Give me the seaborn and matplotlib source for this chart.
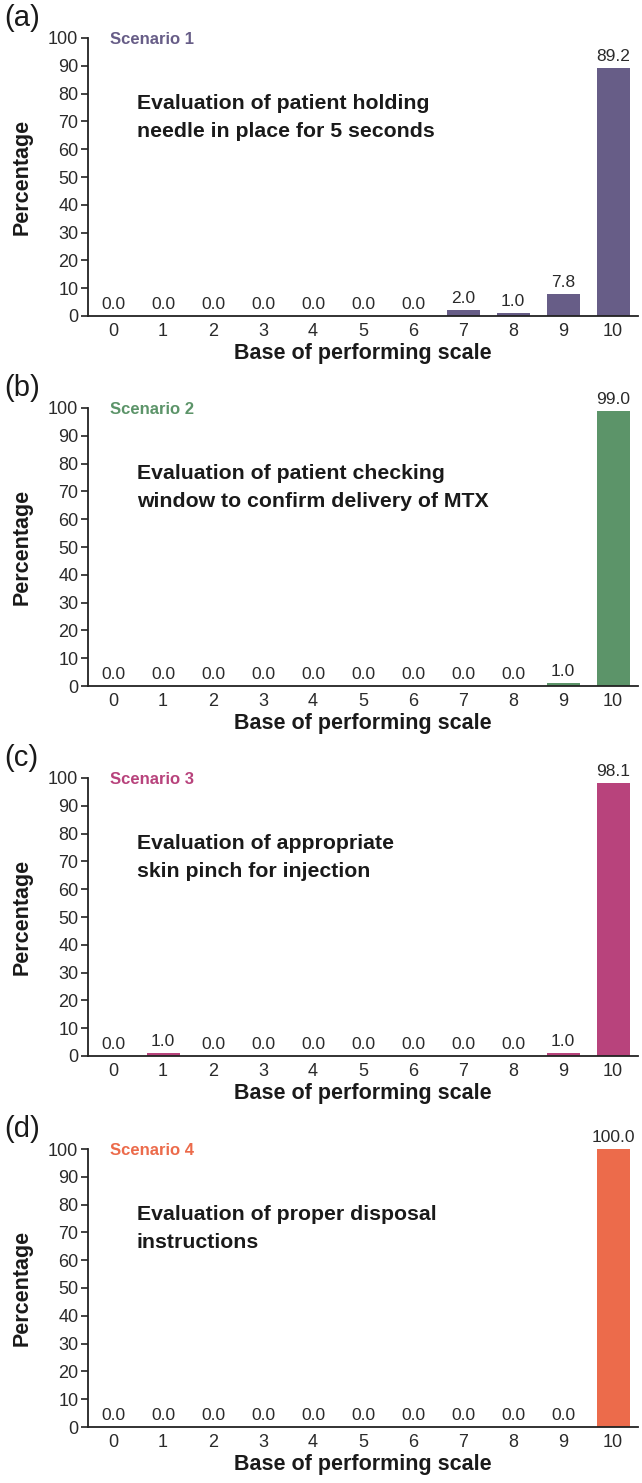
import matplotlib
matplotlib.use("Agg")
import matplotlib.pyplot as plt
import seaborn as sns
import pandas as pd
import numpy as np

categories = ["0", "1", "2", "3", "4", "5", "6", "7", "8", "9", "10"]
scenario1 = [0.0, 0.0, 0.0, 0.0, 0.0, 0.0, 0.0, 2.0, 1.0, 7.8, 89.2]
scenario2 = [0.0, 0.0, 0.0, 0.0, 0.0, 0.0, 0.0, 0.0, 0.0, 1.0, 99.0]
scenario3 = [0.0, 1.0, 0.0, 0.0, 0.0, 0.0, 0.0, 0.0, 0.0, 1.0, 98.1]
scenario4 = [0.0, 0.0, 0.0, 0.0, 0.0, 0.0, 0.0, 0.0, 0.0, 0.0, 100.0]
panel_letters = ["(a)", "(b)", "(c)", "(d)"]
scenario_names = ["Scenario 1", "Scenario 2", "Scenario 3", "Scenario 4"]
descriptions = [
    ["Evaluation of patient holding", "needle in place for 5 seconds"],
    ["Evaluation of patient checking", "window to confirm delivery of MTX"],
    ["Evaluation of appropriate", "skin pinch for injection"],
    ["Evaluation of proper disposal", "instructions"],
]
colors = ["#675d87", "#5c9469", "#b8437c", "#ec6b4b"]
yticks = [0, 10, 20, 30, 40, 50, 60, 70, 80, 90, 100]
xlabel = "Base of performing scale"
ylabel = "Percentage"

sns.set_theme(style="white")
plt.rcParams["font.family"] = ["Liberation Sans", "DejaVu Sans"]

W, H = 642, 1483
fig = plt.figure(figsize=(W / 100, H / 100), dpi=100)
fig.patch.set_facecolor("white")

left_px, right_px = 88, 638
zero_px = [316, 686, 1056, 1427]
height_px = 278

all_vals = [scenario1, scenario2, scenario3, scenario4]
text_col = "#1a1a1a"
tick_col = "#2a2a2a"

for i, vals in enumerate(all_vals):
    ax = fig.add_axes([left_px / W, (H - zero_px[i]) / H,
                       (right_px - left_px) / W, height_px / H])
    df = pd.DataFrame({"score": categories, "pct": vals})
    sns.barplot(data=df, x="score", y="pct", order=categories,
                color=colors[i], width=0.66, saturation=1, ax=ax,
                edgecolor="none")
    ax.set_xlim(-0.5, 10.5)
    ax.set_ylim(0, 100)
    ax.set_yticks(yticks)
    ax.set_yticklabels([str(t) for t in yticks], fontsize=13, color=tick_col)
    ax.set_xticks(range(len(categories)))
    ax.set_xticklabels(categories, fontsize=13, color=tick_col)
    ax.set_xticks(np.arange(-0.5, 11.0, 1.0), minor=True)
    ax.tick_params(axis="x", which="major", length=0, pad=5)
    ax.tick_params(axis="x", which="minor", length=5, width=1.2,
                   direction="out", color="#222222")
    ax.tick_params(axis="y", which="major", length=5, width=1.2,
                   direction="out", color="#222222", pad=2, left=True)
    for s in ["top", "right"]:
        ax.spines[s].set_visible(False)
    for s in ["left", "bottom"]:
        ax.spines[s].set_linewidth(1.3)
        ax.spines[s].set_color("#222222")
    ax.set_xlabel(xlabel, fontsize=15.5, fontweight="bold", color=text_col,
                  labelpad=2)
    ax.set_ylabel(ylabel, fontsize=15.5, fontweight="bold", color=text_col,
                  labelpad=11)
    for j, v in enumerate(vals):
        ax.annotate(f"{v:.1f}", xy=(j, v), xytext=(0, 3),
                    textcoords="offset points", ha="center", va="bottom",
                    fontsize=12.5, color=tick_col, annotation_clip=False)
    ax.text(0.04, 99.3, scenario_names[i], transform=ax.get_yaxis_transform(),
            fontsize=12, fontweight="bold", color=colors[i],
            ha="left", va="center")
    ax.text(0.089, 76.6, descriptions[i][0], transform=ax.get_yaxis_transform(),
            fontsize=15.3, fontweight="bold", color=text_col, ha="left", va="center")
    ax.text(0.089, 66.2, descriptions[i][1], transform=ax.get_yaxis_transform(),
            fontsize=15.3, fontweight="bold", color=text_col, ha="left", va="center")
    fig.text(4 / W, (H - (zero_px[i] - 298)) / H, panel_letters[i],
             fontsize=21, color=text_col, ha="left", va="center")

fig.savefig("out.png", dpi=100, facecolor="white")
